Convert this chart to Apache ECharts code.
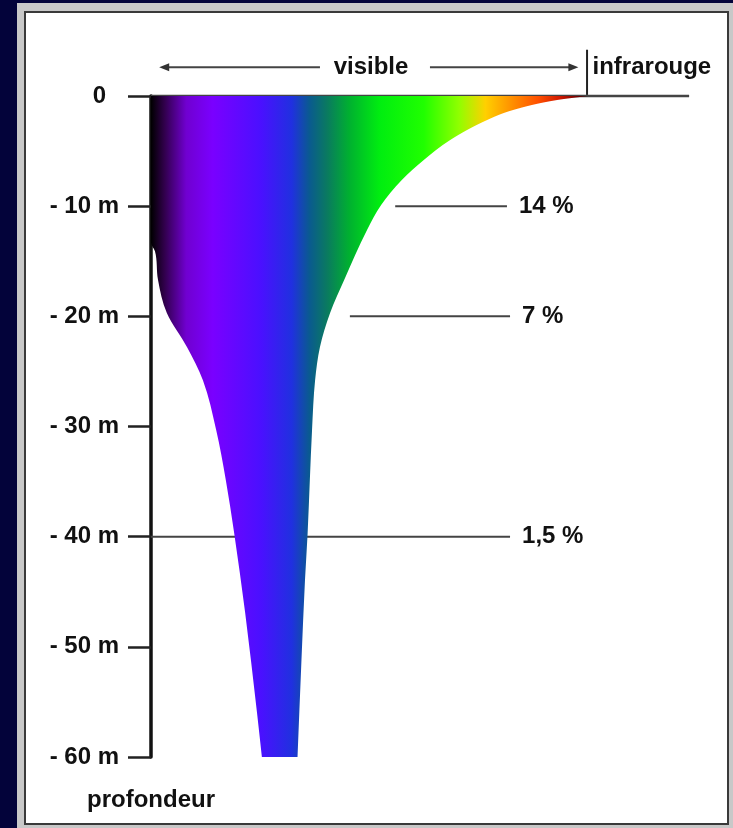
<!DOCTYPE html>
<html>
<head>
<meta charset="utf-8">
<script src="https://cdn.jsdelivr.net/npm/echarts@6/dist/echarts.min.js"></script>
<style>
  html, body { margin: 0; padding: 0; background: #03033a; }
  #main { width: 733px; height: 828px; }
</style>
</head>
<body>
<div id="main"></div>
<script>
// bords du spectre selon la profondeur (m) : 0 = bord violet (axe), 100 = limite infrarouge
var rightDepths = [0, 0.36, 1.27, 2.18, 3.99, 5.81, 7.62, 9.89, 12.16, 16.7, 19.69, 22.78, 25.77, 30.31, 34.85, 39.66, 43.92, 51.18, 60];
var rightEdge   = [99.3, 92.3, 82.3, 76.4, 68.0, 62.0, 57.0, 52.3, 49.1, 43.9, 40.7, 38.4, 37.3, 36.6, 36.1, 35.6, 35.0, 34.2, 33.3];
var leftDepths  = [0, 13.3, 14.1, 16.7, 19.7, 22.8, 25.8, 30.3, 34.85, 39.66, 46.9, 56, 60];
var leftEdge    = [0, 0, 0.9, 1.6, 3.6, 8.2, 11.8, 14.8, 17.0, 18.9, 21.4, 24.1, 25.2];

var depthTicks  = [0, 10, 20, 30, 40, 50, 60];
var depthLabels = ['0', '- 10 m', '- 20 m', '- 30 m', '- 40 m', '- 50 m', '- 60 m'];

// pourcentage de lumiere restant
var pctDepths = [10, 20, 40];
var pctLabels = ['14 %', '7 %', '1,5 %'];
var pctFrom   = [55.5, 45.2, 0];
var pctTo     = [80.9, 81.6, 81.6];

// legende du haut
var annotDepth   = -2.6;
var visibleLeft  = [3, 38.4];
var visibleRight = [63.4, 96];
var visibleMid   = 50;
var infraredAt   = 99.1;
var infraredBar  = [-4.2, -0.1];
var zeroLineEnd  = 122.3;

// couleurs du spectre
var spectrumStops  = [0, 0.03, 0.08, 0.14, 0.25, 0.32, 0.36, 0.40, 0.45, 0.52, 0.62, 0.70, 0.76, 0.82, 0.88, 0.93, 0.97, 1];
var spectrumColors = ['#000000', '#30004a', '#7000d0', '#7a00ff', '#4a10ff', '#2030e0', '#0a5a90', '#0a7a60',
                      '#00b030', '#00ee10', '#20ff00', '#90ff00', '#ffd000', '#ff9000', '#ff5000', '#d01800', '#700000', '#300000'];

var txt = { color: '#111', fontSize: 24, fontWeight: 'bold', fontFamily: 'Liberation Sans, Arial, sans-serif' };
var lineGray = '#444';

var chart = echarts.init(document.getElementById('main'));

// courbe lissee passant par les points (parametree par y, pentes moyennes)
function edgeCurve(pts) {
  var n = pts.length, m = [], d = '';
  for (var i = 0; i < n; i++) {
    var a = i > 0 ? (pts[i][0] - pts[i - 1][0]) / (pts[i][1] - pts[i - 1][1]) : null;
    var b = i < n - 1 ? (pts[i + 1][0] - pts[i][0]) / (pts[i + 1][1] - pts[i][1]) : null;
    if (a === null) m.push(b);
    else if (b === null) m.push(a);
    else if (a * b <= 0) m.push(0);
    else m.push((a + b) / 2);
  }
  for (var k = 0; k < n - 1; k++) {
    var h = pts[k + 1][1] - pts[k][1];
    d += ' C' + (pts[k][0] + m[k] * h / 3) + ',' + (pts[k][1] + h / 3) + ' ' +
         (pts[k + 1][0] - m[k + 1] * h / 3) + ',' + (pts[k + 1][1] - h / 3) + ' ' +
         pts[k + 1][0] + ',' + pts[k + 1][1];
  }
  return d;
}

function renderSpectrum(params, api) {
  var right = [], left = [];
  for (var i = 0; i < rightDepths.length; i++) right.push(api.coord([rightEdge[i], rightDepths[i]]));
  for (var j = leftDepths.length - 1; j >= 0; j--) left.push(api.coord([leftEdge[j], leftDepths[j]]));
  var d = 'M' + right[0][0] + ',' + right[0][1] + edgeCurve(right) +
          ' L' + left[0][0] + ',' + left[0][1] + edgeCurve(left) + ' Z';
  var p0 = api.coord([0, 0]), p1 = api.coord([100, 0]);
  var stops = spectrumStops.map(function (s, k) { return { offset: s, color: spectrumColors[k] }; });
  return {
    type: 'path',
    shape: { pathData: d },
    style: { fill: new echarts.graphic.LinearGradient(p0[0], 0, p1[0], 0, stops, true), stroke: null }
  };
}

var series = [];

// ligne du zero
series.push({
  type: 'line', z: 1, clip: false, symbol: 'none', silent: true,
  lineStyle: { color: lineGray, width: 2.5 },
  data: [[0, 0], [zeroLineEnd, 0]]
});

// lignes des pourcentages
pctDepths.forEach(function (d, i) {
  series.push({
    name: pctLabels[i], type: 'line', z: 1, symbol: 'none', silent: true,
    lineStyle: { color: lineGray, width: 2 },
    data: [[pctFrom[i], d], [pctTo[i], d]],
    endLabel: Object.assign({ show: true, distance: 12, formatter: '{a}' }, txt)
  });
});

// spectre
series.push({
  type: 'custom', z: 3, silent: true,
  renderItem: renderSpectrum,
  data: [[0, 0]]
});

// fleches "visible"
series.push({
  type: 'line', clip: false, symbol: 'none', silent: true,
  lineStyle: { color: lineGray, width: 2 },
  data: [{ value: [visibleLeft[0], annotDepth], symbol: 'triangle', symbolSize: [8, 10], symbolRotate: 90, itemStyle: { color: '#333' } },
         { value: [visibleLeft[1], annotDepth] }]
});
series.push({
  type: 'line', clip: false, symbol: 'none', silent: true,
  lineStyle: { color: lineGray, width: 2 },
  data: [{ value: [visibleRight[0], annotDepth] },
         { value: [visibleRight[1], annotDepth], symbol: 'triangle', symbolSize: [8, 10], symbolRotate: -90, itemStyle: { color: '#333' } }]
});
// barre infrarouge
series.push({
  type: 'line', clip: false, symbol: 'none', silent: true,
  lineStyle: { color: '#222', width: 2 },
  data: [[infraredAt, infraredBar[0]], [infraredAt, infraredBar[1]]]
});
// textes du haut
series.push({
  type: 'scatter', clip: false, silent: true, symbolSize: 1,
  itemStyle: { color: 'rgba(0,0,0,0)', opacity: 1 },
  data: [
    { value: [visibleMid, annotDepth], label: Object.assign({ show: true, position: 'inside', formatter: 'visible' }, txt) },
    { value: [infraredAt, annotDepth], label: Object.assign({ show: true, position: 'right', distance: 5, formatter: 'infrarouge' }, txt) }
  ]
});

chart.setOption({
  backgroundColor: '#03033a',
  animation: false,
  graphic: [
    { type: 'rect', z: -20, shape: { x: 17, y: 3, width: 716, height: 825 }, style: { fill: '#c8c8c8' } },
    { type: 'rect', z: -10, shape: { x: 25, y: 12, width: 703, height: 812 }, style: { fill: '#ffffff', stroke: '#3a3a3a', lineWidth: 2 } }
  ],
  grid: { left: 151, top: 96, width: 550, height: 661, outerBoundsMode: 'none' },
  xAxis: { type: 'value', min: 0, max: 125, show: false },
  yAxis: {
    type: 'value', inverse: true, min: 0, max: 60, interval: 10,
    name: 'profondeur', nameLocation: 'end', nameGap: 43,
    nameTextStyle: Object.assign({ align: 'center', verticalAlign: 'middle' }, txt),
    axisLine: { show: true, lineStyle: { color: '#111', width: 3.5 } },
    axisTick: { show: true, length: 23, lineStyle: { color: '#222', width: 2.5 } },
    splitLine: { show: false },
    axisLabel: Object.assign({
      margin: 32,
      formatter: function (v) {
        var i = depthTicks.indexOf(v);
        return i === 0 ? '{z|0}' : depthLabels[i];
      },
      rich: { z: Object.assign({ padding: [0, 13, 0, 0] }, txt) }
    }, txt)
  },
  series: series
});
</script>
</body>
</html>
